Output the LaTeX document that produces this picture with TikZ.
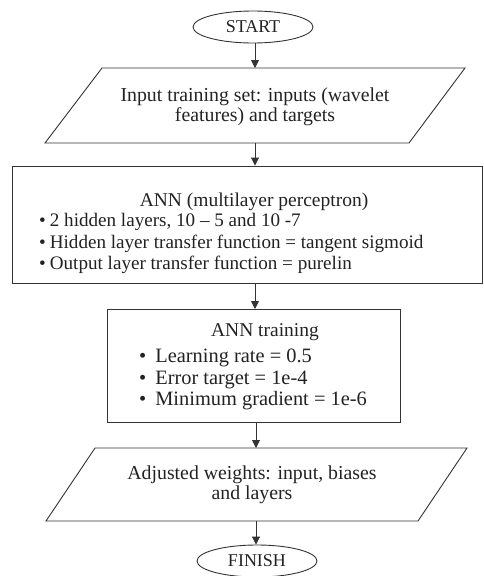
\documentclass[tikz,border=0pt]{standalone}
\usepackage{fontspec}
\setmainfont{Liberation Serif}
\usetikzlibrary{shapes.geometric,arrows.meta}
\definecolor{ink}{HTML}{222222}
\definecolor{edge}{HTML}{333333}
\newcommand{\fs}[2]{\fontsize{#1}{#2}\selectfont}
\begin{document}
\begin{tikzpicture}[x=1pt,y=1pt,
  every node/.style={text=ink,font=\fs{17}{21}},
  terminal/.style={ellipse,draw=edge,line width=0.9pt,minimum width=120pt,minimum height=32pt,inner sep=0pt,font=\fs{18}{21}},
  procbox/.style={rectangle,draw=edge,line width=0.9pt,inner sep=0pt},
  iobox/.style={draw=edge,line width=0.9pt},
  flow/.style={draw=edge,line width=0.9pt,-{Triangle[length=8pt,width=8pt]}},
  blist/.style={align=left,anchor=north west,inner sep=0pt}]
\useasboundingbox (0,0) rectangle (483,-576);

% terminals
\node[terminal] (start) at (253,-27) {START};
\node[terminal] (finish) at (257,-561) {FINISH};

% input parallelogram
\coordinate (i1) at (102,-68);
\coordinate (i2) at (465,-68);
\coordinate (i3) at (409,-143);
\coordinate (i4) at (45,-143);
\draw[iobox] (i1) -- (i2) -- (i3) -- (i4) -- cycle;
\node[align=center,font=\fs{19.8}{20.5}] (intext) at (255,-107) {Input training set: inputs (wavelet\\features) and targets};
\coordinate (intop) at (255,-68);
\coordinate (inbot) at (255,-143);

% network description
\node[procbox,minimum width=470pt,minimum height=117pt] (ann) at (247,-224.5) {};
\node[font=\fs{19.5}{21}] (anntitle) at (254,-202) {ANN (multilayer perceptron)};
\node[blist,font=\fs{19.1}{21.4}] (annlist) at (39,-213.5) {\textbullet\hspace{4pt}2 hidden layers, 10 -- 5 and 10 -7\\
\textbullet\hspace{4pt}Hidden layer transfer function = tangent sigmoid\\
\textbullet\hspace{4pt}Output layer transfer function = purelin};
\coordinate (annbot) at (255,-283);

% training parameters
\node[procbox,minimum width=293pt,minimum height=113pt] (train) at (253.5,-365.5) {};
\node[font=\fs{19.5}{21}] (traintitle) at (265,-332) {ANN training};
\node[blist,font=\fs{20.4}{21.5}] (trainlist) at (139,-349) {\textbullet\hspace{9pt}Learning rate = 0.5\\
\textbullet\hspace{9pt}Error target = 1e-4\\
\textbullet\hspace{9pt}Minimum gradient = 1e-6};
\coordinate (traintop) at (255,-309);
\coordinate (trainbot) at (256,-422);

% output parallelogram
\coordinate (o1) at (95,-448);
\coordinate (o2) at (467,-448);
\coordinate (o3) at (418,-521);
\coordinate (o4) at (46,-521);
\draw[iobox] (o1) -- (o2) -- (o3) -- (o4) -- cycle;
\node[align=center,font=\fs{19.8}{20.5}] (outtext) at (252,-485) {Adjusted weights: input, biases\\and layers};
\coordinate (outtop) at (256,-448);
\coordinate (outbot) at (256,-521);

% connectors
\draw[flow] (start.south -| intop) -- (intop);
\draw[flow] (inbot) -- (inbot |- ann.north);
\draw[flow] (annbot) -- (traintop);
\draw[flow] (trainbot) -- (outtop);
\draw[flow] (outbot) -- (outbot |- finish.north);
\end{tikzpicture}
\end{document}
